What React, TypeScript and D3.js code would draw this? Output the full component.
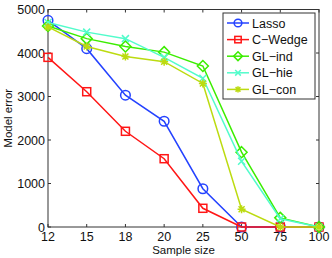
import React, {useEffect, useRef} from 'react'
import * as d3 from 'd3'

const sampleSizes = ['12', '15', '18', '20', '25', '50', '75', '100']
const lasso = [4750, 4100, 3030, 2430, 880, 0, 0, 0]
const cWedge = [3900, 3110, 2200, 1570, 430, 0, 0, 0]
const glInd = [4620, 4330, 4150, 4020, 3700, 1720, 210, 0]
const glHie = [4700, 4480, 4330, 3900, 3420, 1510, 190, 0]
const glCon = [4600, 4150, 3920, 3800, 3300, 410, 0, 0]
const yTicks = [0, 1000, 2000, 3000, 4000, 5000]

const series = [
    {name: 'Lasso', values: lasso, color: '#2442ff', marker: 'circle'},
    {name: 'C\u2212Wedge', values: cWedge, color: '#ff1616', marker: 'square'},
    {name: 'GL\u2212ind', values: glInd, color: '#3ced00', marker: 'diamond'},
    {name: 'GL\u2212hie', values: glHie, color: '#52fccb', marker: 'x'},
    {name: 'GL\u2212con', values: glCon, color: '#bcdb10', marker: 'star'},
]

const drawMarker = (g: any, type: string, x: number, y: number, color: string, k = 1) => {
    if (type === 'circle') {
        g.append('circle').attr('cx', x).attr('cy', y).attr('r', 4.8 * k)
            .attr('fill', 'none').attr('stroke', color).attr('stroke-width', 1.5)
    } else if (type === 'square') {
        g.append('rect').attr('x', x - 4 * k).attr('y', y - 4 * k).attr('width', 8 * k).attr('height', 8 * k)
            .attr('fill', 'none').attr('stroke', color).attr('stroke-width', 1.5)
    } else if (type === 'diamond') {
        const r = 5.5 * k
        g.append('path').attr('d', `M${x},${y - r}L${x + r},${y}L${x},${y + r}L${x - r},${y}Z`)
            .attr('fill', 'none').attr('stroke', color).attr('stroke-width', 1.5)
    } else if (type === 'x') {
        const r = 3.5 * k
        g.append('path').attr('d', `M${x - r},${y - r}L${x + r},${y + r}M${x - r},${y + r}L${x + r},${y - r}`)
            .attr('stroke', color).attr('stroke-width', 1.5)
    } else {
        const r = 4 * k, d = 3 * k
        g.append('path').attr('d', `M${x - r},${y}L${x + r},${y}M${x},${y - r}L${x},${y + r}M${x - d},${y - d}L${x + d},${y + d}M${x - d},${y + d}L${x + d},${y - d}`)
            .attr('stroke', color).attr('stroke-width', 1.5)
    }
}

export default function App() {
    const ref = useRef<SVGSVGElement>(null)

    useEffect(() => {
        const svg = d3.select(ref.current)
        svg.selectAll('*').remove()

        const left = 48, right = 319, top = 9.5, bottom = 227
        const x = d3.scalePoint().domain(sampleSizes).range([left, right])
        const y = d3.scaleLinear().domain([0, 5000]).range([bottom, top])
        const font = 'Liberation Sans, Arial, sans-serif'

        svg.append('rect').attr('width', 332).attr('height', 258).attr('fill', 'white')
        svg.append('rect').attr('x', left).attr('y', top).attr('width', right - left).attr('height', bottom - top)
            .attr('fill', 'white').attr('stroke', '#333').attr('stroke-width', 1)

        // ticks inward on all four sides
        sampleSizes.forEach(s => {
            const px = x(s)!
            svg.append('line').attr('x1', px).attr('x2', px).attr('y1', bottom).attr('y2', bottom - 3).attr('stroke', '#333')
            svg.append('line').attr('x1', px).attr('x2', px).attr('y1', top).attr('y2', top + 3).attr('stroke', '#333')
            svg.append('text').attr('x', px).attr('y', bottom + 14).attr('text-anchor', 'middle')
                .attr('font-family', font).attr('font-size', 12.5).attr('fill', '#111').text(s)
        })
        yTicks.forEach(t => {
            const py = y(t)
            svg.append('line').attr('x1', left).attr('x2', left + 3).attr('y1', py).attr('y2', py).attr('stroke', '#333')
            svg.append('line').attr('x1', right).attr('x2', right - 3).attr('y1', py).attr('y2', py).attr('stroke', '#333')
            svg.append('text').attr('x', left - 3).attr('y', py + 4.5).attr('text-anchor', 'end')
                .attr('font-family', font).attr('font-size', 12.5).attr('fill', '#111').text(t)
        })

        svg.append('text').attr('x', (left + right) / 2).attr('y', 254).attr('text-anchor', 'middle')
            .attr('font-family', font).attr('font-size', 11.5).attr('fill', '#111').text('Sample size')
        svg.append('text').attr('transform', `translate(12,${(top + bottom) / 2}) rotate(-90)`)
            .attr('text-anchor', 'middle').attr('font-family', font).attr('font-size', 11.5).attr('fill', '#111')
            .text('Model error')

        const line = d3.line<number>().x((d, i) => x(sampleSizes[i])!).y(d => y(d))

        series.forEach(s => {
            const g = svg.append('g')
            g.append('path').attr('d', line(s.values)).attr('fill', 'none')
                .attr('stroke', s.color).attr('stroke-width', 1.5)
            s.values.forEach((v, i) => drawMarker(g, s.marker, x(sampleSizes[i])!, y(v), s.color))
        })

        // legend
        const lg = svg.append('g')
        lg.append('rect').attr('x', 223).attr('y', 13).attr('width', 92).attr('height', 86)
            .attr('fill', 'white').attr('stroke', '#333')
        series.forEach((s, i) => {
            const ly = 23 + i * 16.6
            lg.append('line').attr('x1', 227).attr('x2', 249).attr('y1', ly).attr('y2', ly)
                .attr('stroke', s.color).attr('stroke-width', 1.5)
            drawMarker(lg, s.marker, 238, ly, s.color, 0.8)
            lg.append('text').attr('x', 252).attr('y', ly + 4.5).attr('font-family', font)
                .attr('font-size', 12.5).attr('fill', '#111').text(s.name)
        })
    }, [])

    return (
        <svg ref={ref} width={332} height={258} style={{position: 'absolute', left: 0, top: 0}}/>
    )
}
